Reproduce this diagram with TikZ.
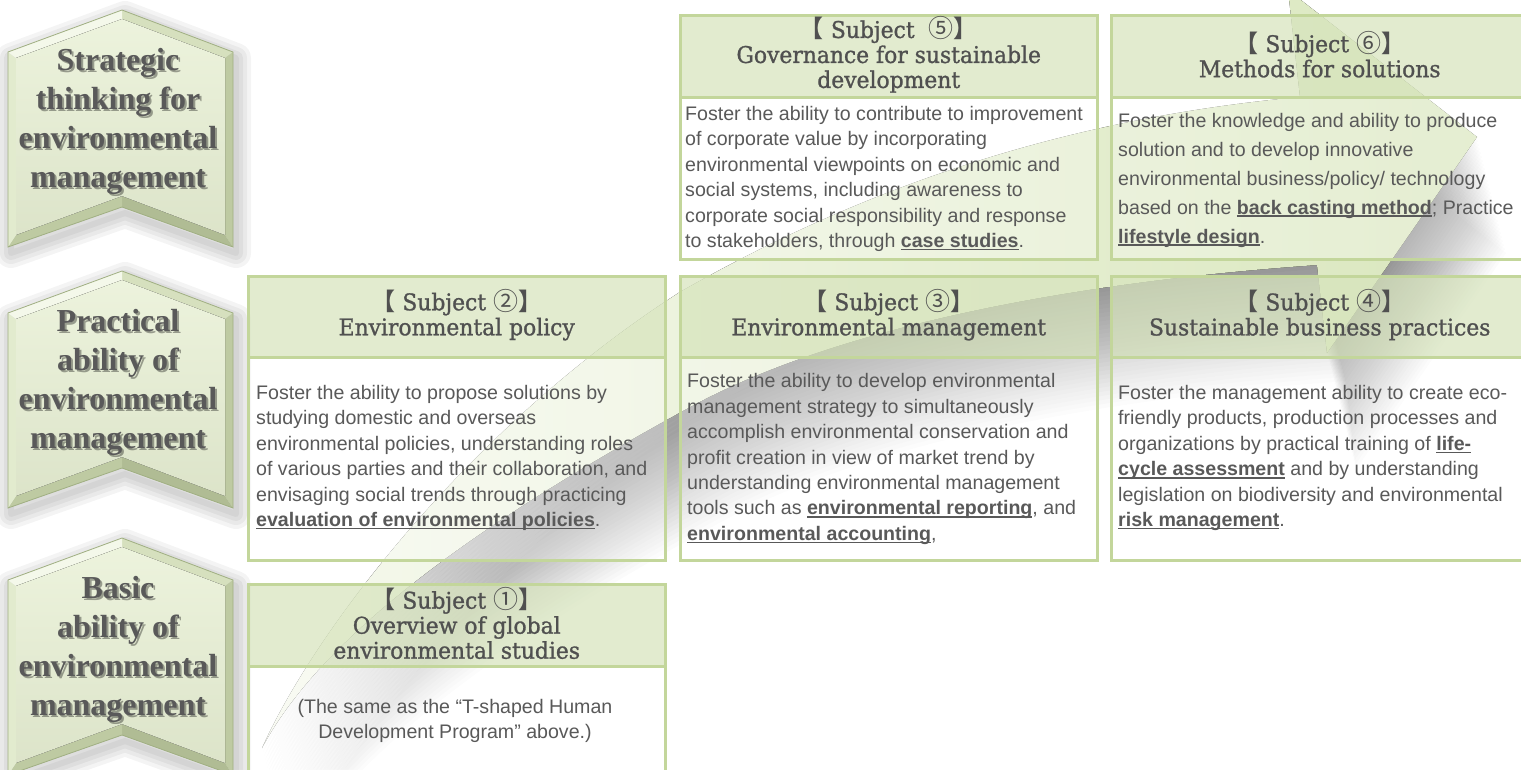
\documentclass[tikz,border=0pt]{standalone}
\usepackage{fontspec}
\setmainfont{Liberation Sans}
\newfontfamily\hdrfont[FakeStretch=0.95,FakeBold=1.1]{DejaVu Serif}
\newfontfamily\cjkf{Noto Sans CJK JP}
\newfontfamily\cjkb{Noto Sans CJK JP Bold}
\newfontfamily\chevfont{Liberation Serif}
\definecolor{txt}{RGB}{89,89,89}
\definecolor{htx}{RGB}{80,80,80}
\definecolor{bord}{RGB}{195,214,155}
\definecolor{hdr}{RGB}{215,228,189}
\definecolor{arrowA}{RGB}{246,249,238}
\definecolor{arrowB}{RGB}{218,231,190}
\definecolor{chevin}{RGB}{232,240,212}
\definecolor{fcA}{RGB}{244,248,234}
\definecolor{fcB}{RGB}{214,224,190}
\definecolor{fcC}{RGB}{176,188,148}
\definecolor{fcD}{RGB}{190,202,162}
\definecolor{fcE}{RGB}{226,235,206}
\definecolor{chevedge}{RGB}{160,175,130}
\newcommand\myul[1]{\leavevmode\setbox0\hbox{\bfseries #1}\rlap{\rule[-2.8pt]{\wd0}{1.4pt}}\box0\relax}
\newcommand\lbk{{\cjkb\fontsize{24}{25}\selectfont 【}}
\newcommand\rbk{{\cjkb\fontsize{24}{25}\selectfont 】}}
\newcommand\cnum[1]{{\cjkf\fontsize{25}{25}\selectfont #1}}
\def\arrowpath{(262,748) .. controls (320,620) and (480,420) .. (680,292)
  .. controls (850,195) and (1050,120) .. (1300,97)
  -- (1288,-10) -- (1477,137) -- (1327,353) -- (1317,265)
  .. controls (1100,280) and (850,320) .. (690,407)
  .. controls (520,500) and (330,620) .. (262,748) -- cycle}
\begin{document}
\begin{tikzpicture}[x=1pt,y=-1pt,
  boxh/.style={draw=bord, line width=2.5pt, fill=hdr, fill opacity=0.72, text opacity=1,
    minimum width=417pt, minimum height=82pt, anchor=north west, inner sep=0pt},
  boxb/.style={draw=bord, line width=2.5pt, fill=white, fill opacity=0.3, text opacity=1,
    minimum width=417pt, anchor=north west, inner sep=0pt},
  htxt/.style={align=center, inner sep=0pt, text=htx, font=\hdrfont\fontsize{23}{25}\selectfont},
  btxt/.style={anchor=west, align=left, inner sep=0pt, text=txt, font=\fontsize{19.6}{25.4}\selectfont},
  chevtxt/.style={align=center, inner sep=0pt, font=\chevfont\bfseries\fontsize{32}{39}\selectfont}
]
\useasboundingbox (0,0) rectangle (1521,769);
\clip (0,0) rectangle (1521,769);
\fill[white] (0,0) rectangle (1521,769);

% shadow of the big arrow
\foreach \k in {4,8,...,116} {
  \begin{scope}[shift={(0.25*\k,\k)}]
    \fill[black, opacity=0.017] \arrowpath;
  \end{scope}
}
% big arrow
\fill[left color=arrowA, right color=arrowB] \arrowpath;

% chevrons
\foreach \y/\n/\t in {10/1/{Strategic\\thinking for\\environmental\\management},
                      271/2/{Practical\\ability of\\environmental\\management},
                      538/3/{Basic\\ability of\\environmental\\management}} {
  \begin{scope}[shift={(0,\y)}]
    \foreach \w in {30,22,14,6} {
      \begin{scope}[shift={(3,6)}]
        \draw[black, opacity=0.045, line width=\w pt, line join=round]
          (122,0) -- (233,42) -- (233,237) -- (122,197) -- (8,237) -- (8,42) -- cycle;
      \end{scope}
    }
    \fill[fcB] (122,0) -- (233,42) -- (225,48) -- (122,9) -- cycle;
    \fill[fcD] (233,42) -- (233,237) -- (225,225) -- (225,48) -- cycle;
    \fill[fcC] (233,237) -- (122,197) -- (122,186) -- (225,225) -- cycle;
    \fill[fcD] (122,197) -- (8,237) -- (16,225) -- (122,186) -- cycle;
    \fill[fcE] (8,237) -- (8,42) -- (16,48) -- (16,225) -- cycle;
    \fill[fcA] (8,42) -- (122,0) -- (122,9) -- (16,48) -- cycle;
    \fill[top color=chevin!80!white, bottom color=chevin!95!black]
      (122,9) -- (225,48) -- (225,225) -- (122,186) -- (16,225) -- (16,48) -- cycle;
    \draw[chevedge, line width=0.8pt, line join=miter]
      (122,0) -- (233,42) -- (233,237) -- (122,197) -- (8,237) -- (8,42) -- cycle;
    \node[chevtxt, text=black, opacity=0.35] (cs\n) at (120,113) {\t};
    \node[chevtxt, text=txt] (c\n) at (118,111) {\t};
  \end{scope}
}

% boxes
\node[boxb, minimum height=162pt] (b5) at (679,96) {};
\node[boxh, minimum height=82pt] (h5) at (679,14) {};
\node[boxb, minimum height=162pt] (b6) at (1110,96) {};
\node[boxh, minimum height=82pt] (h6) at (1110,14) {};
\node[boxb, minimum height=203pt] (b2) at (247,356) {};
\node[boxh, minimum height=81pt] (h2) at (247,275) {};
\node[boxb, minimum height=203pt] (b3) at (679,356) {};
\node[boxh, minimum height=81pt] (h3) at (679,275) {};
\node[boxb, minimum height=203pt] (b4) at (1110,356) {};
\node[boxh, minimum height=81pt] (h4) at (1110,275) {};
\node[boxb, minimum height=110pt] (b1) at (247,665) {};
\node[boxh, minimum height=82pt] (h1) at (247,583) {};

% header texts
\node[htxt] (ht5) at ([yshift=1.5pt]h5.center) {\lbk{} Subject \ \cnum{⑤}\rbk\\Governance for sustainable\\development};
\node[htxt] (ht6) at ([yshift=2pt]h6.center) {\lbk{} Subject \cnum{⑥}\rbk\\Methods for solutions};
\node[htxt] (ht2) at ([yshift=2pt]h2.center) {\lbk{} Subject \cnum{②}\rbk\\Environmental policy};
\node[htxt] (ht3) at ([yshift=2pt]h3.center) {\lbk{} Subject \cnum{③}\rbk\\Environmental management};
\node[htxt] (ht4) at ([yshift=2pt]h4.center) {\lbk{} Subject \cnum{④}\rbk\\Sustainable business practices};
\node[htxt] (ht1) at ([yshift=2pt]h1.center) {\lbk{} Subject \cnum{①}\rbk\\Overview of global\\environmental studies};

% body texts
\node[btxt] (x5) at (685,179) {Foster the ability to contribute to improvement\\
of corporate value by incorporating\\
environmental viewpoints on economic and\\
social systems, including awareness to\\
corporate social responsibility and response\\
to stakeholders, through \myul{case studies}.};
\node[btxt, font=\fontsize{19.6}{29}\selectfont] (x6) at (1118,180) {Foster the knowledge and ability to produce\\
solution and to develop innovative\\
environmental business/policy/ technology\\
based on the \myul{back casting method}; Practice\\
\myul{lifestyle design}.};
\node[btxt] (x2) at (256,458) {Foster the ability to propose solutions by\\
studying domestic and overseas\\
environmental policies, understanding roles\\
of various parties and their collaboration, and\\
envisaging social trends through practicing\\
\myul{evaluation of environmental policies}.};
\node[btxt] (x3) at (687,459) {Foster the ability to develop environmental\\
management strategy to simultaneously\\
accomplish environmental conservation and\\
profit creation in view of market trend by\\
understanding environmental management\\
tools such as \myul{environmental reporting}, and\\
\myul{environmental accounting},};
\node[btxt] (x4) at (1118,458) {Foster the management ability to create eco-\\
friendly products, production processes and\\
organizations by practical training of \myul{life-}\\
\myul{cycle assessment} and by understanding\\
legislation on biodiversity and environmental\\
\myul{risk management}.};
\node[btxt, anchor=center, align=center] (x1) at (455,721) {(The same as the “T-shaped Human\\
Development Program” above.)};
\end{tikzpicture}
\end{document}
